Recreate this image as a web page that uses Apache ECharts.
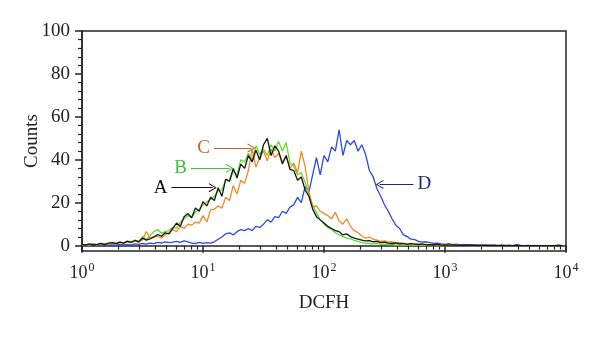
<!DOCTYPE html>
<html>
<head>
<meta charset="utf-8">
<script src="https://cdn.jsdelivr.net/npm/echarts@6/dist/echarts.min.js"></script>
<style>
html,body{margin:0;padding:0;background:#fff;}
#chart{width:600px;height:342px;}
</style>
</head>
<body>
<div id="chart"></div>
<script>
// Histogram channels: 32 channels per decade, x in log10(DCFH)
const channelsPerDecade = 32;
const xTickLabels = ['0', '1', '2', '3', '4'];
const yTickValues = [0, 20, 40, 60, 80, 100];
const yMinorTicks = [4, 8, 12, 16, 24, 28, 32, 36, 44, 48, 52, 56, 64, 68, 72, 76, 84, 88, 92, 96];

const countsA = [
  0.5,0.3,0.8,0.4,0.6,1.0,0.5,1.2,
  1.4,0.9,1.6,1.2, 2.0,1.5,2.4,1.8,
  3.5,2.6,3.2,4.0, 5.2,4.4,6.0,5.5,
  8.0,10.5,9.0,13.5, 15.0,13.0,17.5,16.0,
  20.5,18.5,22.5,21.0, 27.0,23.0,31.0,30.0,
  36.0,31.5,38.0,36.0, 42.0,39.0,44.5,40.0,
  47.0,50.0,42.0,46.5, 44.0,38.0,42.0,35.5,
  35.0,30.5,32.0,26.0, 23.0,17.0,13.5,12.0,
  10.5,9.0,8.0,7.0, 6.5,5.0,5.5,4.2,
  3.5,3.0,2.6,2.2, 2.3,1.8,2.0,1.4,
  1.6,1.2,1.0,1.3, 0.8,1.0,0.6,0.9,
  0.7,0.5,0.8,0.4, 0.5,0.3,0.6,0.2,
  0.4,0.2,0.3,0.1, 0.2,0.0,0.3,0.1,
  0.1,0.0,0.2,0.0, 0.1,0.0,0.0,0.1,
  0,0,0,0, 0,0,0,0, 0,0,0,0, 0,0,0,0
];
const countsB = [
  0.3,0.6,0.4,0.9,0.5,0.8,1.1,0.7,
  1.4,1.0,1.8,1.3, 2.2,1.7,2.6,2.0,
  4.2,3.0,4.6,6.5, 7.5,5.8,6.5,7.0,
  8.5,8.0,11.0,12.5, 14.0,13.0,15.5,17.0,
  19.0,20.5,21.5,23.0, 25.5,26.0,30.5,30.0,
  34.5,33.0,40.0,39.0, 43.0,40.0,46.5,42.5,
  45.0,42.0,47.0,44.0, 48.5,44.0,48.0,38.5,
  37.0,33.0,34.0,29.5, 24.0,19.0,15.5,12.0,
  10.0,8.5,7.5,6.0, 5.0,4.2,3.5,3.2,
  2.4,2.0,1.4,1.2, 1.0,0.8,1.1,0.6,
  0.7,0.5,0.6,0.3, 0.4,0.2,0.3,0.2,
  0.1,0.2,0,0.1, 0,0.1,0,0, 0,0,0,0,
  0,0,0,0, 0,0,0,0, 0,0,0,0, 0,0,0,0,
  0,0,0,0, 0,0,0,0, 0,0,0,0
];
const countsC = [
  0.2,0.5,0.3,0.7,0.4,0.9,0.6,1.0,
  1.3,0.8,1.5,1.1, 1.8,1.4,2.2,1.6,
  2.8,6.5,3.5,4.2, 4.2,3.6,5.0,6.0,
  7.5,6.5,9.0,8.0, 10.0,9.5,11.0,10.5,
  14.0,11.0,16.5,17.0, 18.5,17.5,22.5,21.0,
  28.0,24.0,30.5,29.0, 35.0,45.0,36.5,41.0,
  44.0,39.5,45.0,41.0, 43.0,39.0,41.5,36.0,
  38.5,34.0,44.0,37.0, 25.0,18.0,18.5,16.0,
  15.0,14.0,12.5,15.5, 11.5,10.0,12.5,9.0,
  7.0,6.0,4.5,3.5, 4.0,3.0,2.6,2.0,
  2.2,1.6,1.8,1.2, 1.4,1.0,0.8,1.1,
  0.7,0.9,0.5,0.6, 0.4,0.5,0.2,0.3,
  0.2,0.4,0.1,0.2, 0.1,0,0.2,0,
  0,0.1,0,0, 0,0,0,0.1, 0,0,0,0,
  0,0,0,0, 0,0,0,0, 0,0,0.6,0
];
const countsD = [
  0.2,0.0,0.3,0.1,0.4,0.2,0.5,0.3,
  0.4,0.2,0.6,0.3, 0.5,0.4,0.8,0.6,
  1.0,0.7,1.2,0.9, 1.5,1.2,1.8,1.4,
  1.6,2.0,1.5,2.2, 1.8,1.2,1.0,1.5,
  1.0,1.4,1.2,1.8, 3.0,4.0,5.5,6.0,
  5.0,6.5,7.5,7.0, 8.0,7.0,9.0,8.5,
  10.0,12.0,11.0,13.5, 13.0,16.0,15.0,18.0,
  19.0,22.5,20.0,27.5, 25.0,33.0,41.0,33.0,
  42.0,39.0,46.0,44.0, 54.0,42.0,49.0,47.0,
  49.0,44.0,47.0,42.5, 35.0,32.0,26.5,23.0,
  19.0,16.0,12.5,9.5, 8.0,5.0,4.2,3.0,
  2.8,2.0,1.6,1.8, 1.4,1.0,1.2,0.8,
  0.6,0.9,0.5,0.7, 0.4,0.6,0.3,0.5,
  0.3,0.4,0.2,0.3, 0.2,0.3,0.1,0.2,
  0.1,0.2,0,0.6, 0.1,0,0.1,0,
  0,0,0,0, 0,0,0,0
];

// Annotation arrows (data coordinates: x in log10 units, y in counts)
const noteA = { text: 'A', y: 27, from: 0.74, to: 1.08 };
const noteB = { text: 'B', y: 36, from: 0.90, to: 1.22 };
const noteC = { text: 'C', y: 45.5, from: 1.09, to: 1.40 };
const noteD = { text: 'D', y: 28.5, from: 2.74, to: 2.46 };

const minorX = [];
for (let d = 0; d < 4; d++) for (let k = 2; k <= 9; k++) minorX.push(d + Math.log10(k));

const FONT = '"Liberation Serif", "DejaVu Serif", serif';
const AX = '#262626';

function toData(arr) { return arr.map((v, i) => [i / channelsPerDecade, v]); }

const chevron = 'path://M0,10 L5,0 L10,10 L9,10.6 L5,2.4 L1,10.6 Z';

function note(n, color) {
  return {
    silent: true,
    symbol: ['none', chevron],
    symbolSize: [9, 8],
    animation: false,
    lineStyle: { color: color, width: 1.2, type: 'solid' },
    label: { show: true, position: 'start', formatter: n.text, color: color, fontFamily: FONT, fontSize: 19, distance: 4 },
    data: [[{ coord: [n.from, n.y] }, { coord: [n.to, n.y] }]]
  };
}

function histSeries(name, arr, color, n, labelColor) {
  return {
    name: name, type: 'line', showSymbol: false, symbol: 'none',
    data: toData(arr), lineStyle: { color: color, width: 1.3 }, itemStyle: { color: color },
    animation: false, z: 2,
    markLine: note(n, labelColor)
  };
}

const chart = echarts.init(document.getElementById('chart'), null, { renderer: 'canvas' });
chart.setOption({
  backgroundColor: '#fff',
  animation: false,
  grid: { left: 82, right: 34, top: 31, bottom: 91, show: true, borderColor: AX, borderWidth: 1.5, backgroundColor: 'transparent' },
  xAxis: [{
    type: 'value', min: 0, max: 4, interval: 1, position: 'bottom',
    name: 'DCFH', nameLocation: 'middle', nameGap: 43,
    nameTextStyle: { fontFamily: FONT, fontSize: 19, color: '#222' },
    axisLine: { lineStyle: { color: AX, width: 1.5 } },
    axisTick: { show: true, length: 7, lineStyle: { color: AX, width: 1.5 } },
    splitLine: { show: false },
    axisLabel: {
      margin: 11, color: '#222',
      formatter: function (v) { return '{b|10}{s|' + xTickLabels[Math.round(v)] + '}'; },
      rich: {
        b: { fontFamily: FONT, fontSize: 18, color: '#222' },
        s: { fontFamily: FONT, fontSize: 12, color: '#222', padding: [0, 0, 10, 1] }
      }
    }
  }, {
    type: 'value', min: 0, max: 4, position: 'bottom', gridIndex: 0,
    axisLine: { show: false }, axisLabel: { show: false }, splitLine: { show: false },
    axisTick: { show: true, length: 4, customValues: minorX, lineStyle: { color: AX, width: 1.2 } }
  }],
  yAxis: [{
    type: 'value', min: -2.5, max: 100,
    name: 'Counts', nameLocation: 'middle', nameGap: 40, nameRotate: 90, nameMoveOverlap: false,
    nameTextStyle: { fontFamily: FONT, fontSize: 19, color: '#222' },
    axisLine: { show: true, lineStyle: { color: AX, width: 1.5 } },
    axisTick: { show: true, length: 7, customValues: yTickValues, lineStyle: { color: AX, width: 1.5 } },
    axisLabel: { customValues: yTickValues, margin: 12, fontFamily: FONT, fontSize: 19, color: '#222' },
    splitLine: { show: false }
  }, {
    type: 'value', min: -2.5, max: 100, position: 'left', gridIndex: 0,
    axisLine: { show: false }, axisLabel: { show: false }, splitLine: { show: false },
    axisTick: { show: true, length: 4, customValues: yMinorTicks, lineStyle: { color: AX, width: 1.2 } }
  }],
  series: [
    histSeries('D', countsD, '#2a4be0', noteD, '#1c2a7a'),
    histSeries('B', countsB, '#62dd2e', noteB, '#3fc23a'),
    histSeries('C', countsC, '#f08a26', noteC, '#c0682a'),
    histSeries('A', countsA, '#151515', noteA, '#111111')
  ]
});
</script>
</body>
</html>
